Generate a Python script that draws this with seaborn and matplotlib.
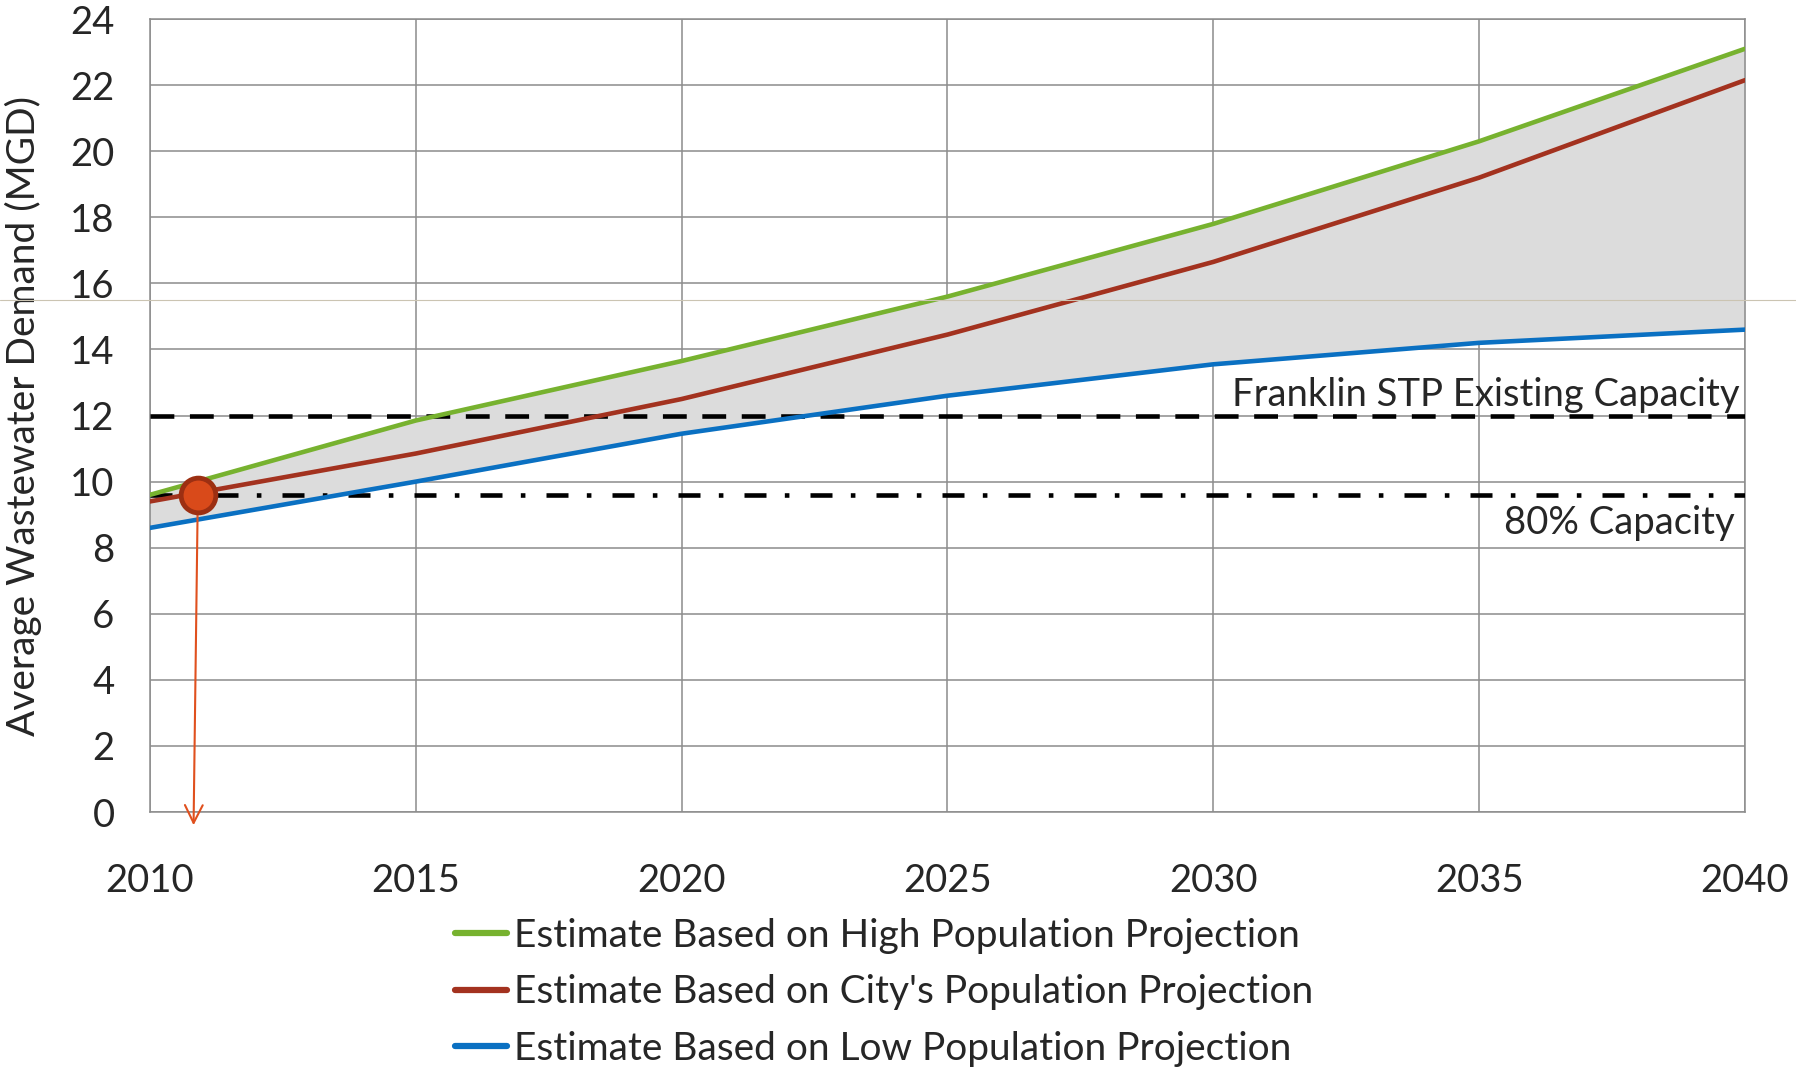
import numpy as np
import pandas as pd
import matplotlib.pyplot as plt
import seaborn as sns

years = [2010, 2015, 2020, 2025, 2030, 2035, 2040]
high = [9.6, 11.85, 13.65, 15.6, 17.8, 20.3, 23.1]
city = [9.4, 10.85, 12.5, 14.45, 16.65, 19.2, 22.15]
low = [8.6, 10.0, 11.45, 12.6, 13.55, 14.2, 14.6]

series_names = ["Estimate Based on High Population Projection",
                "Estimate Based on City's Population Projection",
                "Estimate Based on Low Population Projection"]
series_colors = ["#77b22f", "#a3321f", "#0a70c2"]

existing_capacity = 12.0
capacity_80 = 9.6
current_year = 2010.9
current_demand = 9.6
artifact_level = 15.5

df = pd.DataFrame({
    "year": years * 3,
    "demand": high + city + low,
    "series": [series_names[0]] * 7 + [series_names[1]] * 7 + [series_names[2]] * 7,
})

sns.set_style("white")
plt.rcParams["font.family"] = ["Lato", "DejaVu Sans"]

fig, ax = plt.subplots(figsize=(17.96, 10.70), dpi=100)
fig.subplots_adjust(left=0.0835, right=0.9716, bottom=0.2411, top=0.9822)

ax.fill_between(years, low, high, color="#dcdcdc", zorder=1, linewidth=0)

sns.lineplot(data=df, x="year", y="demand", hue="series", hue_order=series_names,
             palette=dict(zip(series_names, series_colors)), linewidth=3.3, ax=ax, zorder=4)

ax.axhline(existing_capacity, color="black", lw=3.3, ls=(0, (5.2, 3.4)), zorder=3)
ax.axhline(capacity_80, color="black", lw=3.3, ls=(0, (4.8, 4.0, 1, 4.6)), zorder=3)

# odd thin line across the whole picture
ax.axhline(artifact_level, xmin=-0.0835 / 0.8881, xmax=1.04, color="#cbc4b2", lw=0.8,
           clip_on=False, zorder=5)

ax.annotate("", xy=(current_year - 0.08, -0.4), xytext=(current_year, current_demand),
            arrowprops=dict(arrowstyle="->", color="#e0501e", lw=1.5, mutation_scale=32,
                            shrinkA=0, shrinkB=0),
            annotation_clip=False, zorder=5)
ax.plot([current_year], [current_demand], marker="o", markersize=25, mew=3.5,
        mfc="#d94a1a", mec="#9c2f12", zorder=6)

ax.text(2039.9, existing_capacity + 0.3, "Franklin STP Existing Capacity", ha="right",
        va="baseline", fontsize=27.5)
ax.text(2039.8, capacity_80 - 0.85, "80% Capacity", ha="right", va="center", fontsize=27.5)

ax.set_xlim(2010, 2040)
ax.set_ylim(0, 24)
ax.set_xticks(range(2010, 2041, 5))
ax.set_yticks(range(0, 25, 2))
ax.grid(True, color="#8c8c8c", lw=1.1)
ax.set_axisbelow(True)
for s in ax.spines.values():
    s.set_color("#8c8c8c")
    s.set_linewidth(1.1)
ax.tick_params(axis="both", length=9.5, width=1.1, color="#8c8c8c", labelsize=27.5)
ax.tick_params(axis="x", pad=27)
ax.tick_params(axis="y", pad=16)
ax.set_xlabel("")
ax.set_ylabel("Average Wastewater Demand (MGD)", fontsize=28, labelpad=20)

handles, labels = ax.get_legend_handles_labels()
leg = ax.legend(handles, labels, loc="upper left", bbox_to_anchor=(0.234, 0.175),
                bbox_transform=fig.transFigure, frameon=False, fontsize=28,
                handlelength=1.32, handletextpad=0.18, labelspacing=0.53)
for h in leg.get_lines():
    h.set_linewidth(4.5)

plt.savefig("out.png", dpi=100)
